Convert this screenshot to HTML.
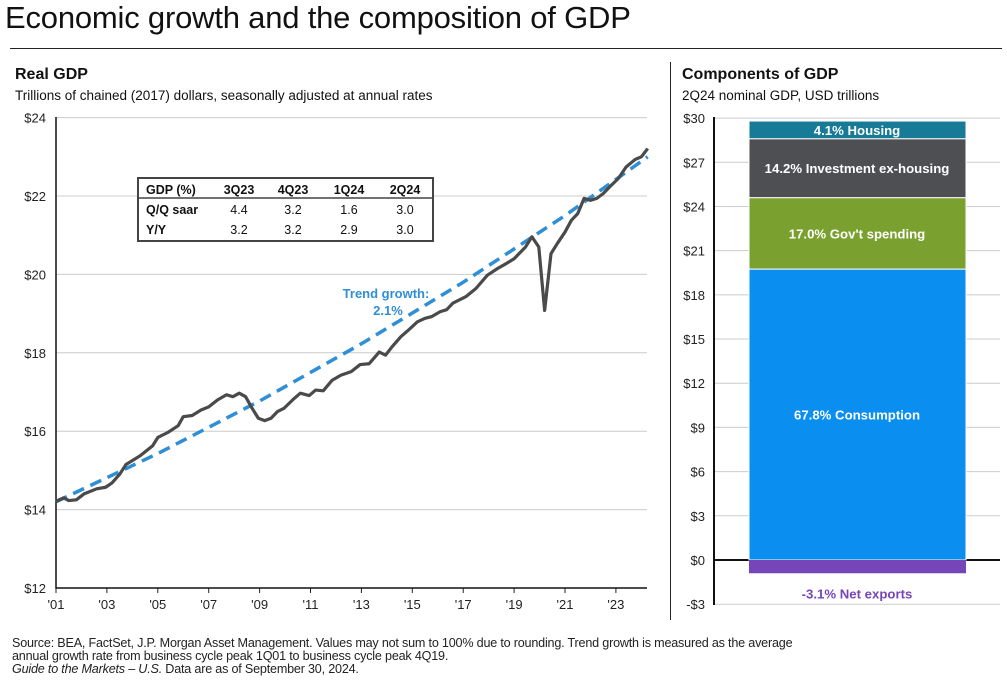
<!DOCTYPE html>
<html><head><meta charset="utf-8"><style>
body{margin:0;width:1007px;height:685px;background:#fff;font-family:"Liberation Sans",sans-serif;overflow:hidden;position:relative}
.t{position:absolute;white-space:nowrap;color:#111}
</style></head><body>
<div class="t" style="left:5px;top:0px;font-size:31px;letter-spacing:-0.2px;font-weight:500">Economic growth and the composition of GDP</div>
<div style="position:absolute;left:10px;top:48px;width:992px;height:1px;background:#222"></div>
<div style="position:absolute;left:670px;top:62px;width:1px;height:558px;background:#222"></div>
<div class="t" style="left:15px;top:66px;font-size:16px;font-weight:bold">Real GDP</div>
<div class="t" style="left:15px;top:88px;font-size:13.5px">Trillions of chained (2017) dollars, seasonally adjusted at annual rates</div>
<div class="t" style="left:682px;top:66px;font-size:16px;font-weight:bold">Components of GDP</div>
<div class="t" style="left:682px;top:88px;font-size:13.5px">2Q24 nominal GDP, USD trillions</div>
<svg id="c" width="1007" height="685" style="position:absolute;left:0;top:0"></svg>
<div class="t" style="left:12px;top:637px;font-size:12.6px;line-height:13px;color:#222;letter-spacing:-0.2px">Source: BEA, FactSet, J.P. Morgan Asset Management. Values may not sum to 100% due to rounding. Trend growth is measured as the average<br>annual growth rate from business cycle peak 1Q01 to business cycle peak 4Q19.<br><i>Guide to the Markets – U.S.</i> Data are as of September 30, 2024.</div>
<script>
const gdpYears=[2001,2001.3,2001.5,2001.8,2002.1,2002.6,2002.95,2003.2,2003.5,2003.75,2004.3,2004.8,2005.0,2005.4,2005.8,2006.0,2006.35,2006.7,2007.0,2007.35,2007.7,2007.95,2008.2,2008.45,2008.7,2008.95,2009.2,2009.45,2009.7,2009.95,2010.3,2010.6,2010.95,2011.2,2011.5,2011.85,2012.2,2012.6,2012.95,2013.3,2013.7,2013.95,2014.2,2014.55,2014.85,2015.2,2015.5,2015.75,2016.1,2016.35,2016.6,2017.1,2017.5,2017.95,2018.35,2018.7,2019.0,2019.45,2019.7,2019.97,2020.2,2020.45,2020.7,2021.0,2021.25,2021.5,2021.75,2022.0,2022.25,2022.5,2022.75,2023.1,2023.4,2023.75,2024.0,2024.25];
const gdpValues=[14.21,14.3,14.23,14.25,14.4,14.53,14.57,14.68,14.9,15.15,15.37,15.63,15.84,15.97,16.14,16.37,16.4,16.54,16.62,16.8,16.93,16.88,16.97,16.88,16.59,16.33,16.27,16.33,16.5,16.58,16.8,16.97,16.91,17.05,17.03,17.3,17.43,17.52,17.7,17.72,18.02,17.94,18.15,18.41,18.58,18.79,18.88,18.92,19.05,19.1,19.27,19.43,19.64,19.98,20.15,20.28,20.4,20.7,20.96,20.7,19.08,20.53,20.79,21.08,21.38,21.55,21.94,21.89,21.94,22.06,22.23,22.45,22.74,22.93,23.0,23.21];
const trendYears=[2001,2005,2009,2013,2017,2021,2024.25];
const trendValues=[14.2,15.43,16.77,18.23,19.8,21.5,23.0];
const leftTicks=[12,14,16,18,20,22,24];
const yearTicks=["'01","'03","'05","'07","'09","'11","'13","'15","'17","'19","'21","'23"];
const tableHead=["GDP (%)","3Q23","4Q23","1Q24","2Q24"];
const tableQQ=["Q/Q saar","4.4","3.2","1.6","3.0"];
const tableYY=["Y/Y","3.2","3.2","2.9","3.0"];
const compNames=["Consumption","Gov't  spending","Investment ex-housing","Housing","Net exports"];
const compPct=["67.8%","17.0%","14.2%","4.1%","-3.1%"];
const compValues=[19.75,4.85,4.0,1.2,-0.9];
const compColors=["#0a8ef0","#7aa12f","#4d4f53","#177a96","#7646b8"];
const rightTicks=[-3,0,3,6,9,12,15,18,21,24,27,30];

const svg=document.getElementById('c');const NS='http://www.w3.org/2000/svg';
function mk(tag,a,txt){const e=document.createElementNS(NS,tag);for(const k in a)e.setAttribute(k,a[k]);if(txt!=null)e.textContent=txt;svg.appendChild(e);return e;}
const X=y=>56+(y-2001)*25.45, Y=v=>588-(v-12)*39.2;
leftTicks.forEach(v=>{
 if(v>12){const g=mk('line',{x1:56,x2:647,y1:Y(v),y2:Y(v),stroke:'#ccc','stroke-width':1});
 
 }
 const t=mk('text',{x:46,y:Y(v)+5,'text-anchor':'end','font-size':13,fill:'#222'},'$'+v);
 
 
});
yearTicks.forEach((s,i)=>{const x=X(2001+2*i);
 const l=mk('line',{x1:x,x2:x,y1:588,y2:593,stroke:'#222'});
 
 
 const t=mk('text',{x:x,y:609,'text-anchor':'middle','font-size':13,fill:'#222'},s);
 
 
});
let ax=mk('path',{d:'M56,117V588H647',stroke:'#111','stroke-width':1.5,fill:'none'});


let tr=mk('polyline',{points:trendYears.map((y,i)=>X(y)+','+Y(trendValues[i])).join(' '),fill:'none',stroke:'#2f8fd6','stroke-width':3.5,'stroke-dasharray':'12,7'});


let gl=mk('polyline',{points:gdpYears.map((y,i)=>X(y)+','+Y(gdpValues[i])).join(' '),fill:'none',stroke:'#4a4a4a','stroke-width':3.2,'stroke-linejoin':'round'});


let tl=mk('text',{x:386,y:298,'text-anchor':'middle','font-size':13,'font-weight':'bold',fill:'#2f8fd6'},'Trend growth:');


let tl2=mk('text',{x:388,y:315,'text-anchor':'middle','font-size':13,'font-weight':'bold',fill:'#2f8fd6'},'2.1%');


let tb=mk('rect',{x:138,y:178,width:295,height:63,fill:'#fff',stroke:'#444','stroke-width':2});


let tbl=mk('line',{x1:138,x2:433,y1:198,y2:198,stroke:'#444','stroke-width':1.5});


const colX=[146,239,293,349,405];
[[tableHead,194],[tableQQ,214],[tableYY,234]].forEach(([row,y],r)=>{
 row.forEach((s,i)=>{const t=mk('text',{x:i?colX[i]:146,y:y,'text-anchor':i?'middle':'start','font-size':12.5,'font-weight':(i==0||r==0)?'bold':'normal',fill:'#111'},s);
 
 });
});
const RY=v=>560-v*14.73;
rightTicks.forEach(v=>{
 const g=mk('line',{x1:714,x2:1000,y1:RY(v),y2:RY(v),stroke:v==0?'#111':'#ccc','stroke-width':v==0?2:1});
 
 
 const t=mk('text',{x:705,y:RY(v)+5,'text-anchor':'end','font-size':13,fill:'#222'},(v<0?'-$':'$')+Math.abs(v));
 
 
});
let rax=mk('line',{x1:714,x2:714,y1:117,y2:605,stroke:'#111','stroke-width':2});


let base=0;
compValues.forEach((v,i)=>{
 let y0,y1;
 if(v>=0){y0=base;y1=base+v;base=y1;}else{y0=v;y1=0;}
 const r=mk('rect',{x:749,width:217,y:RY(y1),height:RY(y0)-RY(y1),fill:compColors[i],stroke:'#fff','stroke-width':v>=0?1:0});
 
 
 const ly=v>=0?(RY(y0)+RY(y1))/2+5:RY(y0)+25;
 const t=mk('text',{x:857,y:ly,'text-anchor':'middle','font-size':13.2,'font-weight':'bold',fill:v>=0?'#fff':'#7646b8'},compPct[i]+' '+compNames[i]);
 
 
});
</script>
</body></html>
